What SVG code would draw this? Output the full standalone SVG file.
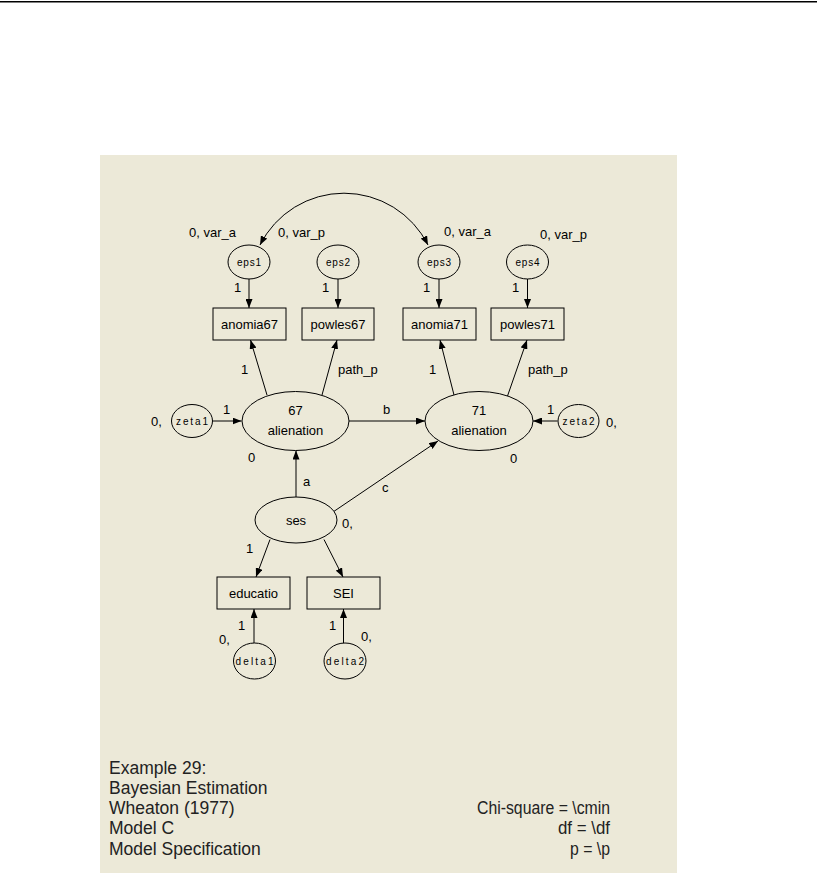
<svg xmlns="http://www.w3.org/2000/svg" width="817" height="874" viewBox="0 0 817 874">
<style>
.bg{fill:#ECE9D8}
.n{fill:#ECE9D8;stroke:#000;stroke-width:1}
.c{fill:none;stroke:#000;stroke-width:1;marker-end:url(#ah)}
.t{font-family:"Liberation Sans",Arial,sans-serif;font-size:13px;fill:#000}
.s{font-family:"Liberation Sans",Arial,sans-serif;font-size:10px;fill:#000;text-anchor:middle}
.m{text-anchor:middle}
.b{font-family:"Liberation Sans",Arial,sans-serif;font-size:17.5px;fill:#222}
.r{text-anchor:end}
</style>
<defs>
<marker id="ah" viewBox="0 0 9 7" refX="9" refY="3.5" markerWidth="9" markerHeight="7" markerUnits="userSpaceOnUse" orient="auto-start-reverse">
<path d="M0,0 L9,3.5 L0,7 z" fill="#000"/>
</marker>
</defs>
<rect x="0" y="0" width="817" height="874" fill="#fff"/>
<rect x="0" y="1" width="817" height="1.5" fill="#000"/>
<rect class="bg" x="100" y="155" width="577" height="718"/>

<g id="connectors">
<path class="c" d="M260,245 A94,94 0 0 1 428,245" style="marker-start:url(#ah)"/>
<line class="c" x1="249" y1="279" x2="249" y2="308"/>
<line class="c" x1="338" y1="279" x2="338" y2="308"/>
<line class="c" x1="439" y1="279" x2="439" y2="308"/>
<line class="c" x1="527.5" y1="279" x2="527.5" y2="308"/>
<line class="c" x1="267" y1="395" x2="250.5" y2="340"/>
<line class="c" x1="322" y1="395" x2="337" y2="340"/>
<line class="c" x1="454" y1="395" x2="440" y2="340"/>
<line class="c" x1="507.5" y1="396" x2="527" y2="340"/>
<line class="c" x1="212.5" y1="421" x2="241.5" y2="421"/>
<line class="c" x1="557.5" y1="421" x2="533" y2="421"/>
<line class="c" x1="349" y1="421" x2="425" y2="421"/>
<line class="c" x1="296" y1="497" x2="296" y2="450.5"/>
<line class="c" x1="333" y1="512" x2="438" y2="441"/>
<line class="c" x1="270" y1="539.5" x2="256" y2="577"/>
<line class="c" x1="324" y1="539.5" x2="343" y2="577"/>
<line class="c" x1="254" y1="643" x2="254" y2="609"/>
<line class="c" x1="343.5" y1="643" x2="343.5" y2="609"/>
</g>

<g id="eps1"><ellipse class="n" cx="249" cy="262" rx="21" ry="17"/><text class="s" x="249" y="266" textLength="24" lengthAdjust="spacing">eps1</text></g>
<g id="eps2"><ellipse class="n" cx="338" cy="262" rx="21" ry="17"/><text class="s" x="338" y="266" textLength="24" lengthAdjust="spacing">eps2</text></g>
<g id="eps3"><ellipse class="n" cx="439" cy="262" rx="21" ry="17"/><text class="s" x="439" y="266" textLength="24" lengthAdjust="spacing">eps3</text></g>
<g id="eps4"><ellipse class="n" cx="527.5" cy="262" rx="21" ry="17"/><text class="s" x="527.5" y="266" textLength="24" lengthAdjust="spacing">eps4</text></g>

<g id="anomia67"><rect class="n" x="213" y="308" width="73" height="32"/><text class="t m" x="249.5" y="329">anomia67</text></g>
<g id="powles67"><rect class="n" x="302" y="308" width="72" height="32"/><text class="t m" x="338" y="329">powles67</text></g>
<g id="anomia71"><rect class="n" x="403" y="308" width="73" height="32"/><text class="t m" x="439.5" y="329">anomia71</text></g>
<g id="powles71"><rect class="n" x="491" y="308" width="73" height="32"/><text class="t m" x="527.5" y="329">powles71</text></g>

<g id="zeta1"><ellipse class="n" cx="192" cy="421" rx="20.5" ry="16.5"/><text class="s" x="192" y="425" textLength="32" lengthAdjust="spacing">zeta1</text></g>
<g id="alienation67"><ellipse class="n" cx="295.5" cy="421" rx="53.5" ry="29.5"/><text class="t m" x="295.5" y="415">67</text><text class="t m" x="295.5" y="435">alienation</text></g>
<g id="alienation71"><ellipse class="n" cx="479" cy="421" rx="54" ry="29.5"/><text class="t m" x="479" y="415">71</text><text class="t m" x="479" y="435">alienation</text></g>
<g id="zeta2"><ellipse class="n" cx="578.5" cy="421" rx="20.5" ry="16.5"/><text class="s" x="578.5" y="425" textLength="32" lengthAdjust="spacing">zeta2</text></g>

<g id="ses"><ellipse class="n" cx="296" cy="520" rx="41" ry="23"/><text class="t m" x="296" y="525">ses</text></g>
<g id="educatio"><rect class="n" x="217" y="577" width="73" height="32"/><text class="t m" x="253.5" y="598">educatio</text></g>
<g id="SEI"><rect class="n" x="307" y="577" width="73" height="32"/><text class="t m" x="343.5" y="598">SEI</text></g>
<g id="delta1"><ellipse class="n" cx="254.5" cy="661" rx="21" ry="18"/><text class="s" x="254.5" y="665" textLength="38" lengthAdjust="spacing">delta1</text></g>
<g id="delta2"><ellipse class="n" cx="345" cy="661" rx="21" ry="18"/><text class="s" x="345" y="665" textLength="38" lengthAdjust="spacing">delta2</text></g>

<g id="labels" class="t">
<text x="189" y="237">0, var_a</text>
<text x="278" y="237">0, var_p</text>
<text x="444" y="236">0, var_a</text>
<text x="540" y="239">0, var_p</text>
<text x="234" y="292">1</text>
<text x="322" y="292">1</text>
<text x="423" y="292">1</text>
<text x="512" y="292">1</text>
<text x="241" y="374">1</text>
<text x="338" y="374">path_p</text>
<text x="429" y="374">1</text>
<text x="528" y="374">path_p</text>
<text x="223" y="414">1</text>
<text x="151" y="426">0,</text>
<text x="383" y="414">b</text>
<text x="547" y="414">1</text>
<text x="606" y="427">0,</text>
<text x="248" y="462">0</text>
<text x="510" y="463">0</text>
<text x="303" y="486">a</text>
<text x="382" y="492">c</text>
<text x="342" y="528">0,</text>
<text x="246" y="553">1</text>
<text x="238" y="630">1</text>
<text x="219" y="644">0,</text>
<text x="329" y="630">1</text>
<text x="361" y="641">0,</text>
</g>

<g id="caption" class="b">
<text x="109" y="774">Example 29:</text>
<text x="109" y="794">Bayesian Estimation</text>
<text x="109" y="814">Wheaton (1977)</text>
<text x="109" y="834">Model C</text>
<text x="109" y="855">Model Specification</text>
<text x="477" y="814" textLength="133" lengthAdjust="spacingAndGlyphs">Chi-square = \cmin</text>
<text x="558" y="834" textLength="52" lengthAdjust="spacingAndGlyphs">df = \df</text>
<text x="570" y="855" textLength="40" lengthAdjust="spacingAndGlyphs">p = \p</text>
</g>
</svg>
